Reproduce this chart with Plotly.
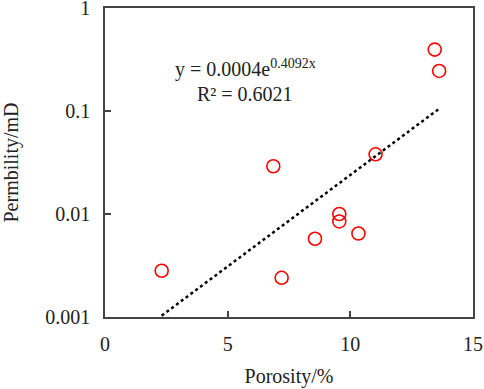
import numpy as np
import plotly.graph_objects as go

porosity = [13.44, 13.62, 11.03, 6.86, 9.55, 9.55, 10.33, 8.56, 2.31, 7.20]
permeability = [0.395, 0.245, 0.038, 0.0291, 0.0100, 0.00846, 0.00646, 0.00575, 0.00281, 0.00240]
fit_a = 0.0004
fit_b = 0.4092
y_ticks = [0.001, 0.01, 0.1, 1]
y_ticktext = ["0.001", "0.01", "0.1", "1"]
x_ticks = [0, 5, 10, 15]

xf = np.linspace(min(porosity), max(porosity), 100)
yf = fit_a * np.exp(fit_b * xf)

FAM = "Liberation Serif"
def F(size=20):
    return dict(family=FAM, size=size, color="#222222")

fig = go.Figure()
fig.add_trace(go.Scatter(x=xf, y=yf, mode="lines",
                         line=dict(color="black", width=2.5, dash="dot"),
                         hoverinfo="skip"))
fig.add_trace(go.Scatter(x=porosity, y=permeability, mode="markers",
                         marker=dict(symbol="circle-open", size=13,
                                     color="#ff0000", line=dict(width=1.6, color="#ff0000"))))

axcol = "#444444"
L, R, T, B = 105, 11, 8, 72
fig.update_layout(
    width=484, height=389,
    margin=dict(l=L, r=R, t=T, b=B, autoexpand=False),
    paper_bgcolor="white", plot_bgcolor="white",
    showlegend=False,
    font=F(),
    xaxis=dict(range=[0, 15], tickvals=x_ticks, ticks="inside", ticklen=6,
               tickcolor=axcol, tickwidth=1.5, automargin=False,
               ticklabeloverflow="allow", ticklabelstandoff=8,
               showline=True, linecolor=axcol, linewidth=1.5, mirror=True,
               showgrid=False, zeroline=False,
               title=dict(text="Porosity/%", standoff=15, font=F()),
               tickfont=F()),
    yaxis=dict(type="log", range=[-3.0005, 0.0005], tickvals=y_ticks, ticktext=y_ticktext,
               ticks="inside", ticklen=6, tickcolor=axcol, tickwidth=1.5, automargin=False,
               ticklabeloverflow="allow", ticklabelstandoff=9,
               showline=True, linecolor=axcol, linewidth=1.5, mirror=True,
               showgrid=False, zeroline=False,
               title=dict(text="Permbility/mD", standoff=22, font=F()),
               tickfont=F()),
)
pw = 484 - L - R
ph = 389 - T - B
def ann(px, py, text):
    fig.add_annotation(x=(px - L) / pw, y=1 - (py - T) / ph, xref="paper", yref="paper",
                       xanchor="center", yanchor="middle",
                       text=text, showarrow=False, font=F())
ann(245, 68, "y = 0.0004e<sup>0.4092x</sup>")
ann(245, 94, "R² = 0.6021")
fig.write_html("out.html", config={"displayModeBar": False},
               post_script="document.body.style.margin='0';document.body.style.overflow='hidden';")
